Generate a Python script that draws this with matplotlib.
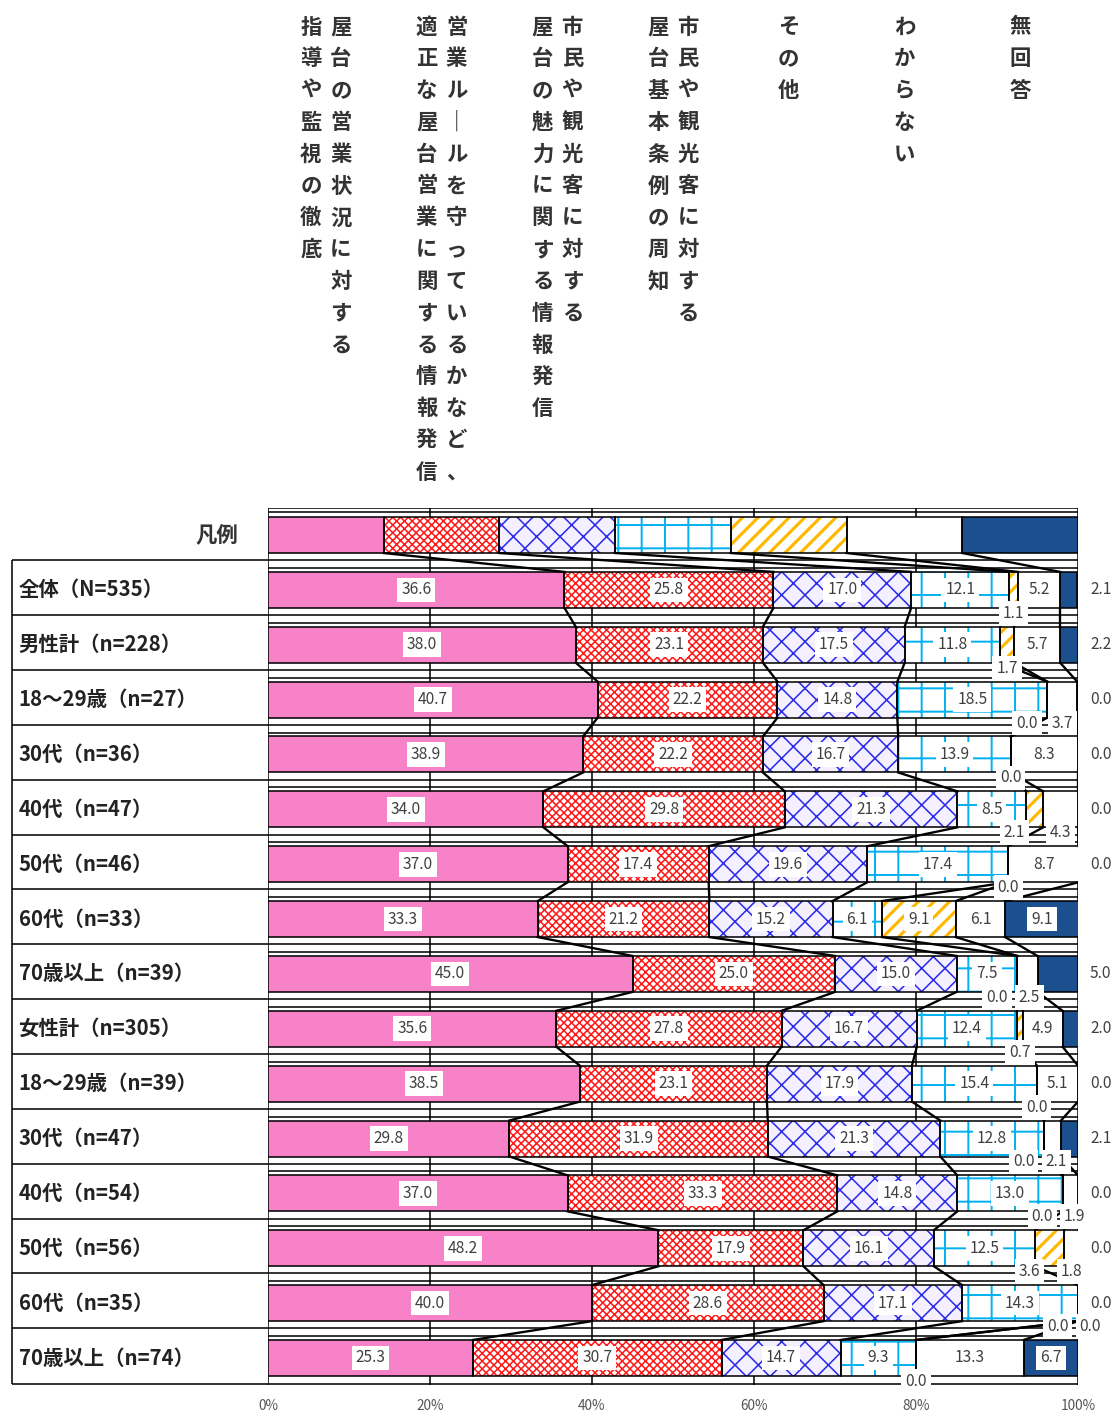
import numpy as np
import matplotlib.pyplot as plt

plt.rcParams['font.family'] = ['Noto Sans CJK JP', 'DejaVu Sans']
plt.rcParams['hatch.linewidth'] = 0.8

# header text, one entry per category (right column first, as read vertically)
header_cols = [
    ["屋台の営業状況に対する", "指導や監視の徹底"],
    ["営業ル｜ルを守っているかなど、", "適正な屋台営業に関する情報発信"],
    ["市民や観光客に対する", "屋台の魅力に関する情報発信"],
    ["市民や観光客に対する", "屋台基本条例の周知"],
    ["その他"],
    ["わからない"],
    ["無回答"],
]

rows = ["全体（N=535）", "男性計（n=228）", "18～29歳（n=27）", "30代（n=36）",
        "40代（n=47）", "50代（n=46）", "60代（n=33）", "70歳以上（n=39）",
        "女性計（n=305）", "18～29歳（n=39）", "30代（n=47）", "40代（n=54）",
        "50代（n=56）", "60代（n=35）", "70歳以上（n=74）"]

shido     = [36.6, 38.0, 40.7, 38.9, 34.0, 37.0, 33.3, 45.0, 35.6, 38.5, 29.8, 37.0, 48.2, 40.0, 25.3]
tekisei   = [25.8, 23.1, 22.2, 22.2, 29.8, 17.4, 21.2, 25.0, 27.8, 23.1, 31.9, 33.3, 17.9, 28.6, 30.7]
miryoku   = [17.0, 17.5, 14.8, 16.7, 21.3, 19.6, 15.2, 15.0, 16.7, 17.9, 21.3, 14.8, 16.1, 17.1, 14.7]
jorei     = [12.1, 11.8, 18.5, 13.9, 8.5, 17.4, 6.1, 7.5, 12.4, 15.4, 12.8, 13.0, 12.5, 14.3, 9.3]
sonota    = [1.1, 1.7, 0.0, 0.0, 2.1, 0.0, 9.1, 0.0, 0.7, 0.0, 0.0, 0.0, 3.6, 0.0, 0.0]
wakaranai = [5.2, 5.7, 3.7, 8.3, 4.3, 8.7, 6.1, 2.5, 4.9, 5.1, 2.1, 1.9, 1.8, 0.0, 13.3]
mukaito   = [2.1, 2.2, 0.0, 0.0, 0.0, 0.0, 9.1, 5.0, 2.0, 0.0, 2.1, 0.0, 0.0, 0.0, 6.7]

series = [shido, tekisei, miryoku, jorei, sonota, wakaranai, mukaito]
ncat = len(series)

face = ['#F782C8', 'white', '#F4F0FF', 'white', 'white', 'white', '#1C4F8E']
hcol = ['none', '#FF1A1A', '#2A2AE8', '#00B0F0', '#FFB800', 'none', 'none']
hatches = [None, 'xxxxxx', 'xx', '+', '///', None, None]
hatch_lw = [0.8, 0.8, 0.8, 1.0, 1.6, 0.8, 0.8]
inside_min = [4.5, 4.5, 4.5, 4.5, 4.5, 4.5, 6.0]

W, H, DPI = 1116, 1416, 140
fig = plt.figure(figsize=(W / DPI, H / DPI), dpi=DPI)
ax = fig.add_axes([268 / W, 1 - 1385.4 / H, 810 / W, (1385.4 - 507.6) / H])
ax.set_xlim(0, 100)
ax.set_ylim(15.5, -0.5)
bh = 0.656
box_left = -31.6


def draw_bar(y, vals):
    left = 0
    for k, v in enumerate(vals):
        with plt.rc_context({'hatch.linewidth': hatch_lw[k]}):
            ax.barh(y, v, left=left, height=bh, color=face[k], edgecolor=hcol[k],
                    hatch=hatches[k], linewidth=0, zorder=2)
        ax.barh(y, v, left=left, height=bh, color='none', edgecolor='black',
                linewidth=0.8, zorder=2.5)
        left += v


# grid and frame lines
ax.vlines([0, 20, 40, 60, 80, 100], -0.5, 15.5, color='black', lw=0.8, zorder=1)
ax.hlines([-0.5, -0.42], 0, 100, color='black', lw=0.8, zorder=1)
for i in range(15):
    ax.hlines(i + 0.46, box_left, 100, color='black', lw=0.8, zorder=1, clip_on=False)
    ax.hlines(i + 0.6, 0, 100, color='black', lw=0.8, zorder=1)
ax.hlines(15.48, box_left, 100, color='black', lw=0.8, zorder=1, clip_on=False)
ax.vlines(box_left, 0.46, 15.48, color='black', lw=0.8, zorder=1, clip_on=False)

# legend bar
legend_vals = [100 / ncat] * ncat
draw_bar(0, legend_vals)
ax.text(-3.7, 0, '凡例', ha='right', va='center', fontsize=11, weight='bold', color='#333333')

rowvals = [[s[r] for s in series] for r in range(len(rows))]
for r, vals in enumerate(rowvals, start=1):
    draw_bar(r, vals)
    ax.text(box_left + 0.8, r, rows[r - 1], ha='left', va='center', fontsize=10.5,
            weight='bold', color='#222222', clip_on=False)

# connector lines between bars
cums = [np.cumsum(legend_vals)] + [np.cumsum(v) for v in rowvals]
for i in range(len(cums) - 1):
    for xa, xb in zip(cums[i][:-1], cums[i + 1][:-1]):
        ax.plot([xa, xb], [i + bh / 2, i + 1 - bh / 2], color='black', lw=1.2, zorder=3)

# value labels
box = dict(boxstyle='square,pad=0.25', fc='white', ec='none')
for r, vals in enumerate(rowvals, start=1):
    vals = np.array(vals)
    lefts = np.cumsum(vals) - vals
    both_below = vals[4] < inside_min[4] and vals[5] < inside_min[5]
    c4 = lefts[4] + vals[4] / 2 - (2.5 if both_below else 0)
    for k, v in enumerate(vals):
        txt = f'{v:.1f}'
        c = lefts[k] + v / 2
        if v >= inside_min[k]:
            ax.text(c, r, txt, ha='center', va='center', fontsize=8, color='#404040',
                    bbox=box, zorder=4)
        elif k == ncat - 1:
            ax.text(102.8, r, txt, ha='center', va='center', fontsize=8, color='#404040',
                    clip_on=False, zorder=4)
        else:
            if k == 4:
                c = c4
            elif k == 5 and both_below:
                c = max(c, c4 + 4.0)
            ax.text(c, r + bh / 2 + 0.1, txt, ha='center', va='center', fontsize=8,
                    color='#404040', bbox=box, zorder=4, clip_on=False)

ticks = [0, 20, 40, 60, 80, 100]
ax.set_xticks(ticks, [f'{t}%' for t in ticks])
ax.set_yticks([])
ax.tick_params(axis='x', length=0, pad=7, labelsize=7, labelcolor='#555555')
for s in ax.spines.values():
    s.set_visible(False)

# vertical header text
step = 31.8
for k, cols in enumerate(header_cols):
    cx = 268 + (k + 0.5) * 810 / ncat
    xs = [cx + 15, cx - 15] if len(cols) == 2 else [cx]
    for x, col in zip(xs, cols):
        for j, ch in enumerate(col):
            fig.text(x / W, 1 - (27 + j * step) / H, ch, ha='center', va='center',
                     fontsize=11, weight='bold', color='#333333')

fig.savefig('out.png', dpi=DPI)
